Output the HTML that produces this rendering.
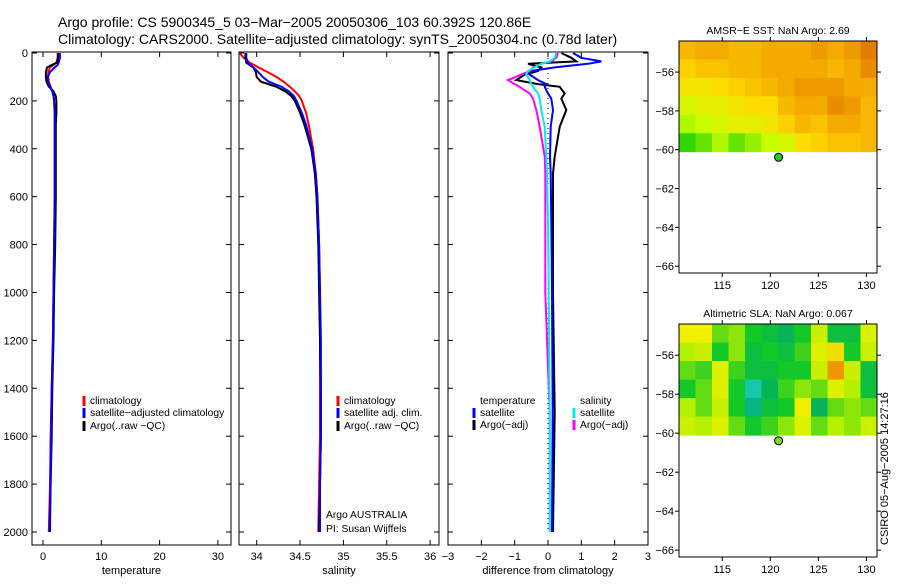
<!DOCTYPE html>
<html><head><meta charset="utf-8"><style>
body{margin:0;background:#fff}
svg text{font-family:"Liberation Sans",sans-serif;font-size:11px;fill:#000}
</style></head><body>
<svg id="s" width="900" height="580" xmlns="http://www.w3.org/2000/svg">
<text x="58" y="27" style="font-size:14px">Argo profile: CS 5900345_5 03−Mar−2005 20050306_103 60.392S 120.86E</text>
<text x="58" y="44" style="font-size:14px">Climatology: CARS2000. Satellite−adjusted climatology: synTS_20050304.nc (0.78d later)</text>
<text x="888" y="545" transform="rotate(-90 888 545)">CSIRO 05−Aug−2005 14:27:16</text>
</svg>
<script>
const depths=[0,20,40,50,60,80,100,120,140,160,180,200,250,300,400,500,600,800,1000,1200,1400,1600,1800,2000];
const tempClim=[2.5,2.5,2.3,1.8,1.2,0.9,0.9,1.0,1.3,1.6,1.8,1.9,2.0,2.0,2.0,2.0,2.0,1.9,1.8,1.7,1.5,1.3,1.2,1.0];
const tempSat=[2.9,2.9,2.7,2.5,2.0,1.2,0.8,0.9,1.2,1.6,1.8,1.9,2.0,2.0,2.0,2.0,2.0,1.9,1.8,1.7,1.5,1.4,1.3,1.1];
const tempArgo=[2.6,2.6,2.4,1.5,0.7,0.5,0.5,0.6,1.0,1.8,2.2,2.3,2.3,2.2,2.2,2.2,2.2,2.1,1.9,1.8,1.6,1.5,1.3,1.2];
const salClim=[33.80,33.85,33.92,33.97,34.02,34.13,34.23,34.31,34.38,34.44,34.49,34.52,34.57,34.60,34.65,34.68,34.70,34.72,34.73,34.73,34.73,34.73,34.72,34.71];
const salSat=[33.88,33.88,33.90,33.93,33.96,34.02,34.07,34.14,34.28,34.37,34.43,34.46,34.52,34.57,34.64,34.68,34.70,34.72,34.73,34.74,34.74,34.74,34.73,34.73];
const salArgo=[33.87,33.87,33.88,33.92,33.96,33.99,34.00,34.05,34.22,34.33,34.40,34.44,34.50,34.55,34.63,34.67,34.69,34.71,34.72,34.73,34.74,34.74,34.73,34.72];
const diffDepths=[0,20,35,45,60,75,90,113,130,141,169,190,238,308,433,503,700,1000,1500,2000];
const diffTempSat=[0.75,1.0,1.6,1.2,0.2,-0.5,-0.55,-0.3,-0.05,-0.1,0.0,0.1,0.15,0.08,0.06,0.08,0.1,0.12,0.14,0.12];
const diffTempArgo=[0.4,0.7,0.85,-0.6,-0.2,-0.3,-0.7,-0.95,-0.3,0.35,0.5,0.4,0.55,0.35,0.2,0.15,0.15,0.15,0.2,0.15];
const diffSalSat=[0.25,0.2,0.05,-0.2,-0.4,-0.6,-0.65,-0.55,-0.5,-0.45,-0.3,-0.25,-0.2,-0.1,-0.05,-0.03,0.0,0.02,0.05,0.05];
const diffSalArgo=[0.3,0.25,0.1,-0.2,-0.45,-0.55,-0.8,-1.2,-1.0,-0.85,-0.55,-0.45,-0.35,-0.25,-0.1,-0.08,-0.08,-0.08,0.05,0.05];
const depthTicks=[0,200,400,600,800,1000,1200,1400,1600,1800,2000];
const tempTicks=[0,10,20,30];
const salTicks=[34,34.5,35,35.5,36];
const diffTicks=[-3,-2,-1,0,1,2,3];
const sstGrid=[
[0.75,0.8,0.8,0.75,0.75,0.8,0.8,0.8,0.85,0.8,0.85,0.95],
[0.65,0.7,0.7,0.75,0.75,0.8,0.8,0.8,0.8,0.75,0.8,0.9],
[0.55,0.55,0.6,0.65,0.7,0.75,0.8,0.85,0.85,0.85,0.8,0.8],
[0.45,0.5,0.5,0.55,0.6,0.6,0.75,0.8,0.8,0.9,0.85,0.75],
[0.35,0.4,0.45,0.5,0.5,0.55,0.65,0.75,0.7,0.8,0.8,0.75],
[0.1,0.2,0.35,0.2,0.3,0.4,0.45,0.6,0.65,0.7,0.7,0.75]];
const slaGrid=[
[0.5,0.5,0.0,0.1,-0.2,-0.3,-0.4,-0.2,0.3,-0.3,-0.3,0.4],
[0.2,0.3,-0.2,0.1,-0.3,-0.2,-0.3,-0.1,0.4,0.6,-0.2,0.3],
[0.0,-0.1,0.4,-0.1,-0.3,-0.3,-0.2,-0.2,0.3,1.0,0.3,-0.3],
[-0.2,0.0,0.4,-0.2,-0.8,-0.4,-0.1,0.1,0.0,0.4,0.2,-0.3],
[0.2,0.0,0.3,-0.2,-0.6,-0.3,-0.2,0.5,-0.4,0.0,0.1,0.0],
[0.3,0.2,0.4,0.0,-0.2,-0.1,0.1,0.4,0.0,0.2,0.1,0.3]];
const lonTicks=[115,120,125,130];
const latTicks=[-56,-58,-60,-62,-64,-66];
const argoLon=[120.86], argoLat=[-60.39];

const NS='http://www.w3.org/2000/svg', S=document.getElementById('s');
function mk(t,a,p){const e=document.createElementNS(NS,t);for(const k in a)e.setAttribute(k,a[k]);(p||S).appendChild(e);return e;}
function txt(x,y,s,anchor,p){const e=mk('text',{x:x,y:y,'text-anchor':anchor||'start'},p);e.textContent=s;return e;}
const yD=d=>53+d*0.2395;
const PT=52,PB=545;
function panel(name,x0,x1,xf,ticks,fmt,label){
  const g=mk('g',{});
  
  
  const r=mk('rect',{x:x0,y:PT,width:x1-x0,height:PB-PT,fill:'none',stroke:'#000','stroke-width':1},g);
  
  
  ticks.forEach(t=>{const x=xf(t);
    mk('line',{x1:x,y1:PT,x2:x,y2:PT+5,stroke:'#000'},g);
    mk('line',{x1:x,y1:PB,x2:x,y2:PB-5,stroke:'#000'},g);
    const l=txt(x,PB+15,fmt(t),'middle',g);
    
    });
  depthTicks.forEach(d=>{const y=yD(d);
    mk('line',{x1:x0,y1:y,x2:x0+5,y2:y,stroke:'#000'},g);
    mk('line',{x1:x1,y1:y,x2:x1-5,y2:y,stroke:'#000'},g);});
  const t=txt((x0+x1)/2,PB+29,label,'middle',g);
  
  
  return g;
}
function line(g,name,xs,ds,xf,col){
  const pts=xs.map((v,i)=>xf(v).toFixed(1)+','+yD(ds[i]).toFixed(1)).join(' ');
  const p=mk('polyline',{points:pts,fill:'none',stroke:col,'stroke-width':2},g);
  
  
}
function legend(g,x,y,col,label){
  if(col){const m=mk('line',{x1:x,y1:y-8,x2:x,y2:y+2,stroke:col,'stroke-width':3},g);
  
  }
  const t=txt(x+6,y,label,'start',g);
  t.style.fontSize='10.3px';
  
  
}
depthTicks.forEach(d=>{const t=txt(28,yD(d)+4,String(d),'end');
  
  });
const xT=v=>43+v*5.83;
const g1=panel('temperature-panel',32,231,xT,tempTicks,String,'temperature');
line(g1,'temp-climatology',tempClim,depths,xT,'#f00');
line(g1,'temp-argo',tempArgo,depths,xT,'#000');
line(g1,'temp-satellite',tempSat,depths,xT,'#00f');
legend(g1,84,404,'#f00','climatology');
legend(g1,84,416,'#00f','satellite−adjusted climatology');
legend(g1,84,429,'#000','Argo(..raw −QC)');
const xS=v=>256.7+(v-34)*86.7;
const g2=panel('salinity-panel',239,439,xS,salTicks,String,'salinity');
line(g2,'sal-climatology',salClim,depths,xS,'#f00');
line(g2,'sal-argo',salArgo,depths,xS,'#000');
line(g2,'sal-satellite',salSat,depths,xS,'#00f');
legend(g2,338,404,'#f00','climatology');
legend(g2,338,416,'#00f','satellite adj. clim.');
legend(g2,338,429,'#000','Argo(..raw −QC)');
legend(g2,320,518,null,'Argo AUSTRALIA');
legend(g2,320,532,null,'PI: Susan Wijffels');
const xDf=v=>548+v*33.33;
const g3=panel('difference-panel',448,648,xDf,diffTicks,v=>v<0?'−'+(-v):String(v),'difference from climatology');
mk('line',{x1:548,y1:yD(0),x2:548,y2:yD(2000),stroke:'#000','stroke-dasharray':'1,4'},g3);
line(g3,'diff-temp-argo',diffTempArgo,diffDepths,xDf,'#000');
line(g3,'diff-temp-satellite',diffTempSat,diffDepths,xDf,'#00f');
line(g3,'diff-sal-argo',diffSalArgo,diffDepths,xDf,'#f0f');
line(g3,'diff-sal-satellite',diffSalSat,diffDepths,xDf,'#0ee');
legend(g3,474,404,null,'temperature');
legend(g3,474,416,'#00f','satellite');
legend(g3,474,428,'#000','Argo(−adj)');
legend(g3,574,404,null,'salinity');
legend(g3,574,416,'#0ee','satellite');
legend(g3,574,428,'#f0f','Argo(−adj)');
function lerp(stops,v){for(let i=1;i<stops.length;i++){if(v<=stops[i][0]||i==stops.length-1){const a=stops[i-1],b=stops[i];let f=(v-a[0])/(b[0]-a[0]);f=Math.max(0,Math.min(1,f));return 'rgb('+[1,2,3].map(k=>Math.round(a[k]+(b[k]-a[k])*f)).join(',')+')';}}}
const sstStops=[[0,0,200,0],[0.4,200,255,0],[0.6,255,220,0],[0.8,245,170,0],[1,220,110,0]];
const slaStops=[[-1,40,220,210],[-0.5,0,170,110],[-0.2,20,200,40],[0.2,180,240,0],[0.5,240,240,0],[1,240,150,0]];
function map(name,top,bottom,grid,stops,title,dotCol){
  const L=679,R=877,lon0=110.5,lon1=131.1;
  const latTop=-54.4,pxDeg=(bottom-top)/11.95;
  const xL=v=>L+(v-lon0)*(R-L)/(lon1-lon0), yL=v=>top+(latTop-v)*pxDeg;
  const g=mk('g',{});
  
  
  const rows=grid.length,cols=grid[0].length,lat1=-60.1;
  const cw=(R-L)/cols,ch=(yL(lat1)-top)/rows;
  grid.forEach((row,r)=>row.forEach((v,c)=>{
    const e=mk('rect',{x:L+c*cw,y:top+r*ch,width:cw+0.5,height:ch+0.5,fill:lerp(stops,v)},g);
    
    }));
  const f=mk('rect',{x:L,y:top,width:R-L,height:bottom-top,fill:'none',stroke:'#000'},g);
  
  
  lonTicks.forEach(v=>{const x=xL(v);
    mk('line',{x1:x,y1:top,x2:x,y2:top-4,stroke:'#000'},g);
    mk('line',{x1:x,y1:bottom,x2:x,y2:bottom+4,stroke:'#000'},g);
    const t=txt(x,bottom+16,String(v),'middle',g);
    
    });
  latTicks.forEach(v=>{const y=yL(v);
    mk('line',{x1:L,y1:y,x2:L-4,y2:y,stroke:'#000'},g);
    mk('line',{x1:R,y1:y,x2:R+4,y2:y,stroke:'#000'},g);
    const t=txt(L-5,y+4,'−'+(-v),'end',g);
    
    });
  const tt=txt((L+R)/2,top-7,title,'middle',g);
  tt.style.fontSize='10.5px';
  
  
  const d=mk('circle',{cx:xL(argoLon[0]),cy:yL(argoLat[0]),r:4,fill:dotCol,stroke:'#000'},g);
  
  
}
map('sst-map',41,273,sstGrid,sstStops,'AMSR−E SST: NaN Argo: 2.69','#2c2');
map('sla-map',324,557,slaGrid,slaStops,'Altimetric SLA: NaN Argo: 0.067','#7d2');
</script>
</body></html>
